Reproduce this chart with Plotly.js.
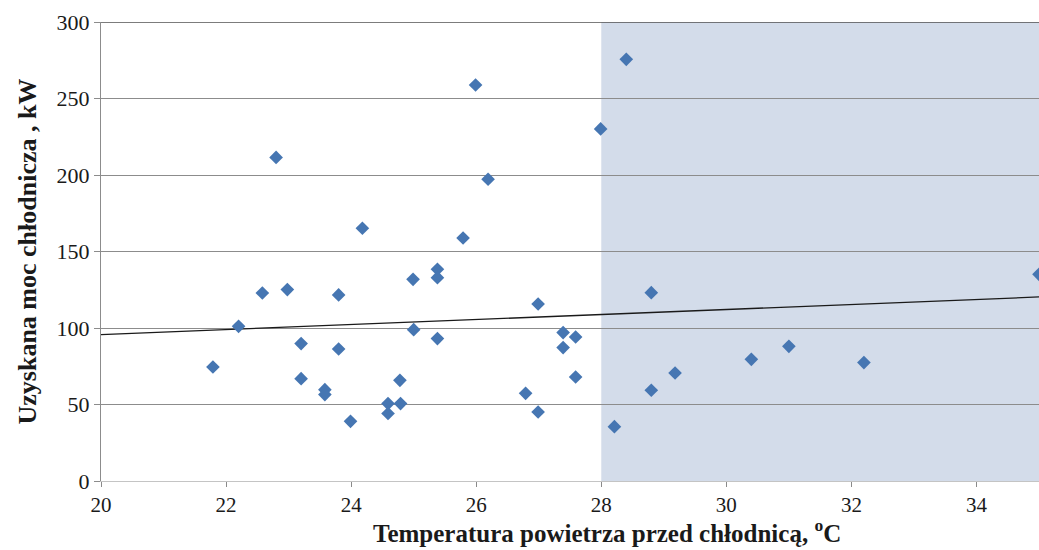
<!DOCTYPE html>
<html>
<head>
<meta charset="utf-8">
<script src="https://cdn.plot.ly/plotly-3.0.1.min.js"></script>
<style>html,body{margin:0;padding:0;background:#fff}#chart{width:1039px;height:550px}</style>
</head>
<body>
<div id="chart"></div>
<script>
// Temperature of air before cooler [°C]
const temperature = [22.80, 24.18, 22.58, 22.98, 23.80, 22.20, 24.99, 25.38, 25.38, 25.00,
  25.38, 23.20, 23.80, 21.79, 23.20, 24.78, 23.58, 23.58, 24.59, 24.79,
  24.59, 23.99, 26.19, 25.79, 26.99, 27.39, 27.59, 27.39, 27.59, 26.79,
  26.99, 28.21, 28.80, 29.18, 28.80, 28.40, 25.99, 27.99, 31.00, 30.40,
  32.20, 35.00];
// Obtained cooler power [kW]
const power = [211.5, 165.2, 122.9, 125.1, 121.6, 101.1, 131.8, 138.4, 132.9, 98.9,
  93.1, 89.8, 86.3, 74.5, 66.9, 65.8, 59.7, 56.5, 50.6, 50.6,
  44.1, 39.0, 197.2, 158.8, 115.7, 97.0, 94.1, 87.2, 68.0, 57.3,
  45.1, 35.5, 123.1, 70.6, 59.3, 275.6, 258.8, 230.1, 88.0, 79.5,
  77.4, 135.1];
// Linear trend line end points
const trendX = [20, 35];
const trendY = [95.7, 120.3];
// Highlighted temperature band
const bandX = [28, 35];
const bandY = [0, 300];
const xTicks = [20, 22, 24, 26, 28, 30, 32, 34];
const yTicks = [0, 50, 100, 150, 200, 250, 300];
const xTitle = 'Temperatura powietrza przed chłodnicą, <sup>o</sup>C';
const yTitle = 'Uzyskana moc chłodnicza , kW';

const serif = '"Liberation Serif", "Times New Roman", serif';

const traces = [
  {
    x: trendX, y: trendY, type: 'scatter', mode: 'lines',
    line: {color: '#1a1a1a', width: 1.3}, hoverinfo: 'skip', showlegend: false
  },
  {
    x: temperature, y: power, type: 'scatter', mode: 'markers',
    marker: {symbol: 'diamond', size: 10.5, color: '#4676b2'},
    showlegend: false
  }
];

const layout = {
  width: 1039, height: 550,
  margin: {l: 101, r: 0, t: 22, b: 69},
  paper_bgcolor: '#ffffff', plot_bgcolor: '#ffffff',
  showlegend: false,
  font: {family: serif, color: '#1a1a1a'},
  xaxis: {
    range: [20, 35], tickvals: xTicks, ticktext: xTicks.map(String),
    showgrid: false, zeroline: false,
    showline: true, linecolor: '#c4c4c4', linewidth: 1,
    ticks: 'outside', ticklen: 5, tickcolor: '#8a8a8a', tickwidth: 1,
    tickfont: {family: serif, size: 21, color: '#1a1a1a'}
  },
  yaxis: {
    range: [0, 300], tickvals: yTicks, ticktext: yTicks.map(String),
    showgrid: true, gridcolor: '#8c8c8c', gridwidth: 1, zeroline: false,
    showline: true, linecolor: '#8c8c8c', linewidth: 1,
    ticks: 'outside', ticklen: 6, tickcolor: '#8c8c8c', tickwidth: 1,
    tickfont: {family: serif, size: 22, color: '#1a1a1a'},
    title: {text: yTitle,
            font: {family: serif, size: 26, color: '#1a1a1a', weight: 'bold'}, standoff: 12}
  },
  annotations: [
    {text: xTitle, xref: 'paper', yref: 'paper', x: 0.539, y: 0, yshift: -50,
     xanchor: 'center', yanchor: 'middle', showarrow: false,
     font: {family: serif, size: 25, color: '#1a1a1a', weight: 'bold'}}
  ],
  shapes: [
    {type: 'rect', xref: 'x', yref: 'y', x0: bandX[0], x1: bandX[1], y0: bandY[0], y1: bandY[1],
     fillcolor: '#d3dcea', line: {width: 0}, layer: 'below'},
    {type: 'line', xref: 'paper', yref: 'y', x0: 0, x1: 1, y0: bandY[1], y1: bandY[1],
     line: {color: '#505050', width: 1.6}, layer: 'above'}
  ]
};

Plotly.newPlot('chart', traces, layout, {displayModeBar: false, staticPlot: true});
</script>
</body>
</html>
